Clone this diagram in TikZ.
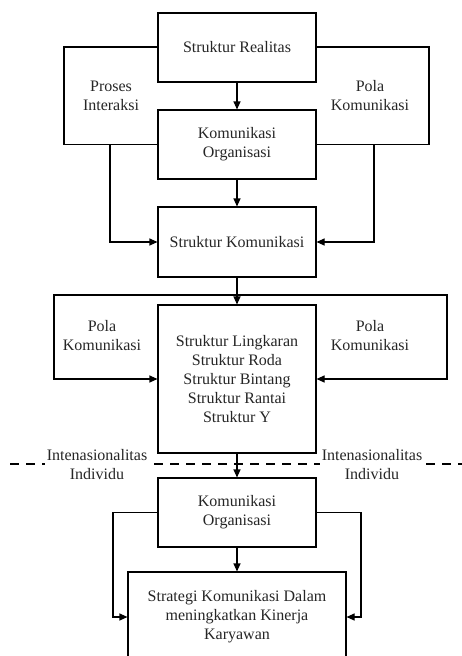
\documentclass[tikz,border=0pt]{standalone}
\usepackage{fontspec}
\setmainfont{Liberation Serif}
\usetikzlibrary{arrows.meta}
\begin{document}
\begin{tikzpicture}[x=1pt,y=-1pt,
  every node/.style={font=\fontsize{16}{19}\selectfont, align=center, text=black!85},
  box/.style={draw, line width=1.1pt, fill=white, inner sep=0pt, minimum width=158pt},
  lbl/.style={inner sep=2pt},
  conn/.style={line width=1.1pt},
  arr/.style={conn, -{Triangle[length=8pt,width=7pt]}}]
\useasboundingbox (0,0) rectangle (462,656);

% side frames of the first tier
\coordinate (pL) at (64,47);
\coordinate (pR) at (429,47);
\coordinate (dl) at (110,0);
\coordinate (dr) at (374,0);

% central column
\node[box, minimum height=69pt] (real) at (237,47.5) {Struktur Realitas};
\node[box, minimum height=69pt] (ko1) at (237,144.5) {Komunikasi\\Organisasi};
\node[box, minimum height=70pt] (sk) at (237,242) {Struktur Komunikasi};
\node[box, minimum height=148pt] (big) at (237,379)
  {Struktur Lingkaran\\Struktur Roda\\Struktur Bintang\\Struktur Rantai\\Struktur Y};
\node[box, minimum height=69pt] (ko2) at (237,512.5) {Komunikasi\\Organisasi};
\node[box, minimum width=218pt, minimum height=90pt] (strat) at (237,617)
  {Strategi Komunikasi Dalam\\meningkatkan Kinerja\\Karyawan};

% labels beside the column
\node[lbl] (proses) at (111,95.5) {Proses\\Interaksi};
\node[lbl] (pola1) at (370,95.5) {Pola\\Komunikasi};
\node[lbl] (pola2) at (102,336) {Pola\\Komunikasi};
\node[lbl] (pola3) at (370,336) {Pola\\Komunikasi};

\draw[conn] (real.west |- pL) -- (pL) |- (ko1.west);
\draw[conn] (real.east |- pR) -- (pR) |- (ko1.east);

\draw[arr] (real.south) -- (ko1.north);
\draw[arr] (ko1.south) -- (sk.north);
\draw[arr] (ko1.west -| dl) |- (sk.west);
\draw[arr] (ko1.east -| dr) |- (sk.east);

% frame of the second tier
\coordinate (fL) at (54,295);
\coordinate (fR) at (447,295);
\draw[arr] (sk.south |- fL) -- (fL) |- (big.west);
\draw[arr] (sk.south |- fR) -- (fR) |- (big.east);
\draw[arr] (sk.south) -- (big.north);

% dashed divider with its labels
\draw[line width=1.1pt, dash pattern=on 9pt off 7pt] (10,464) -- (462,464);
\node[lbl, fill=white] (int1) at (97,465) {Intenasionalitas\\Individu};
\node[lbl, fill=white] (int2) at (372,465) {Intenasionalitas\\Individu};
\draw[arr] (big.south) -- (ko2.north);

% last tier
\coordinate (gl) at (113,0);
\coordinate (gr) at (361,0);
\draw[arr] (ko2.south) -- (strat.north);
\draw[arr] (ko2.west) -| (gl |- strat.west) -- (strat.west);
\draw[arr] (ko2.east) -| (gr |- strat.east) -- (strat.east);
\end{tikzpicture}
\end{document}
